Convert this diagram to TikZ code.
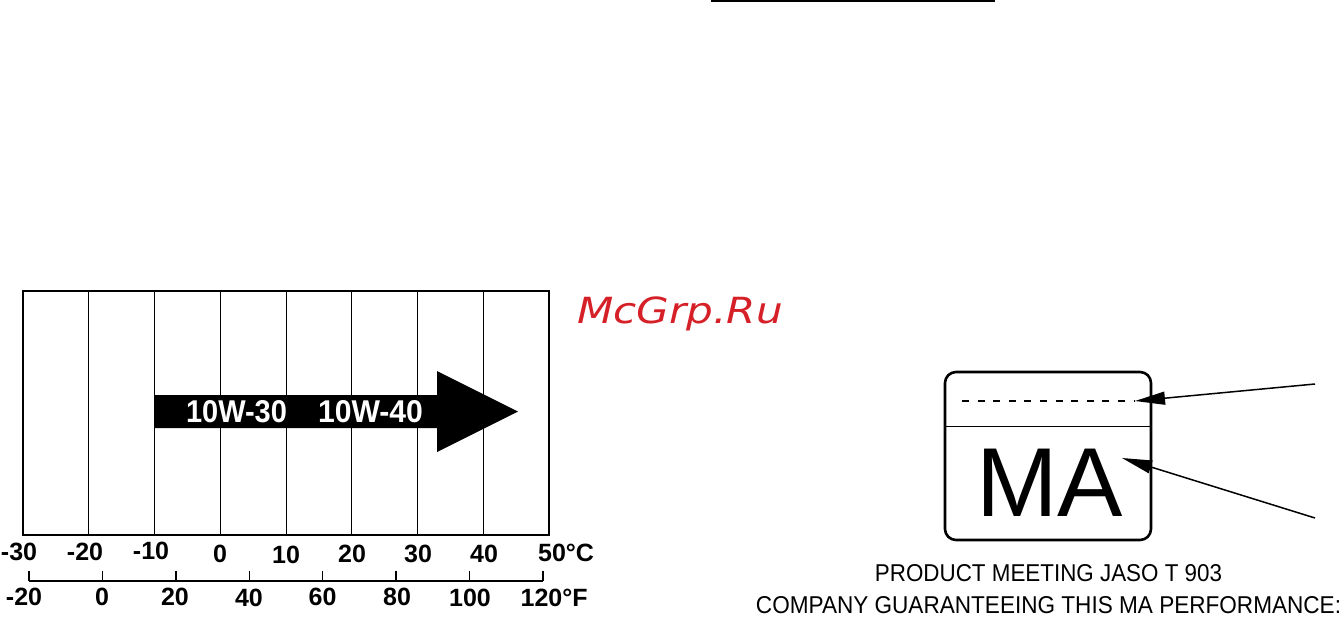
\documentclass[tikz,border=0pt]{standalone}
\usepackage{fontspec}
\setmainfont{Liberation Sans}
\newfontfamily\wmfont{DejaVu Sans}
\usetikzlibrary{arrows.meta}
\definecolor{wmred}{RGB}{214,32,39}
\tikzset{
  chartframe/.style={line width=1.5pt},
  gridline/.style={line width=1pt},
  scaleline/.style={line width=1.4pt},
  tlabel/.style={anchor=base, inner sep=0pt, font=\bfseries\fontsize{25}{25}\selectfont},
  arrowtext/.style={inner sep=0pt, text=white, font=\bfseries},
  pointer/.style={line width=1.5pt, -{Triangle[length=30pt,width=13pt]}},
  capline/.style={inner sep=0pt}
}
\begin{document}
\begin{tikzpicture}[x=1pt,y=-1pt]
\useasboundingbox (0,0) rectangle (1343,618);
% top rule
\draw[line width=2pt] (711,1) -- (995,1);
% chart
\draw[chartframe] (23,291) rectangle (549,535);
\foreach \i in {1,...,7} {
  \draw[gridline] ({23+65.75*\i},291) -- ({23+65.75*\i},535);
}
\fill (154,395) -- (437,395) -- (437,371) -- (518,411.5) -- (437,452) -- (437,428) -- (154,428) -- cycle;
\node[arrowtext] (oil1) at (236.5,411.7) {\resizebox{101pt}{22pt}{10W-30}};
\node[arrowtext] (oil2) at (370.5,411.7) {\resizebox{105pt}{22pt}{10W-40}};
% Celsius labels
\node[tlabel] (c1) at (19,560) {-30};
\node[tlabel] (c2) at (85,560) {-20};
\node[tlabel] (c3) at (151,559.5) {-10};
\node[tlabel] (c4) at (220,562.5) {0};
\node[tlabel] (c5) at (286,563) {10};
\node[tlabel] (c6) at (352,562.5) {20};
\node[tlabel] (c7) at (418,562.5) {30};
\node[tlabel] (c8) at (484,562) {40};
\node[tlabel] (c9) at (552,561) {50\rlap{°C}};
% Fahrenheit scale
\draw[scaleline] (29,581) -- (543,581);
\foreach \x in {29,102.4,175.8,249.2,322.6,396,469.4,543} {
  \draw[scaleline] (\x,570.5) -- (\x,581);
}
\node[tlabel] (f1) at (24,605) {-20};
\node[tlabel] (f2) at (102,605) {0};
\node[tlabel] (f3) at (175,605) {20};
\node[tlabel] (f4) at (249,606) {40};
\node[tlabel] (f5) at (322.5,605) {60};
\node[tlabel] (f6) at (397,605) {80};
\node[tlabel] (f7) at (470,606) {100};
\node[tlabel] (f8) at (541.5,606.5) {120\rlap{°F}};
% watermark
\node[anchor=base west, inner sep=0pt, text=wmred, font=\wmfont\itshape\fontsize{36}{36}\selectfont] (wm) at (577,323) {\scalebox{1.17}[1]{McGrp.Ru}};
% MA label
\draw[line width=2.6pt, rounded corners=11pt] (945,372) rectangle (1151,540);
\draw[line width=0.8pt] (945,426) -- (1151,426);
\draw[line width=1.2pt, dash pattern=on 7pt off 8.6pt] (962,401) -- (1135,401);
\coordinate (dashend) at (1135,401);
\node[anchor=base, inner sep=0pt, font=\fontsize{98}{98}\selectfont] (ma) at (1049.5,516) {MA};
\coordinate (matip) at (1122,458);
\coordinate (p1) at (1315,384);
\coordinate (p2) at (1315,518);
\draw[pointer] (p1) -- (dashend);
\draw[pointer] (p2) -- (matip);
\node[capline] (line1) at (1048.5,573.5) {\resizebox{347pt}{17pt}{PRODUCT MEETING JASO T 903}};
\node[capline] (line2) at (1048.5,605) {\resizebox{585pt}{17pt}{COMPANY GUARANTEEING THIS MA PERFORMANCE:}};
\end{tikzpicture}
\end{document}
